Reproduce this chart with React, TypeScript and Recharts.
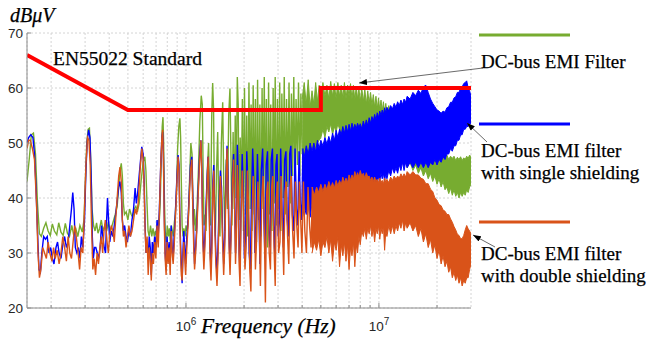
import React from 'react';
import { ComposedChart, Line, Area, XAxis, YAxis, CartesianGrid } from 'recharts';

// all frequencies in kHz, levels in dBµV
// harmonic comb, [kHz, dBµV]
const greenSpikes: [number, number][] = [
  [150, 43], [154, 47], [158, 51.5], [162, 51.8], [166, 48], [170, 39], [174, 33.5], [178, 33], [183, 34.5], [188, 35.5],
  [193, 34], [198, 33.2], [203, 35.3], [208, 34], [214, 33.3], [219, 35.5], [225, 33.8], [231, 33.2], [237, 35.4], [243, 33.6],
  [249, 33], [256, 35], [262, 33.2], [268, 34.6], [275, 33], [282, 35], [290, 33.8], [296, 36], [301, 43], [306, 50],
  [311, 52.5], [316, 52.7], [321, 47], [326, 38], [332, 35], [338, 34], [344, 35.5], [350, 33.6], [357, 34.5], [364, 36],
  [372, 34], [380, 35], [388, 34], [396, 35.6], [405, 34], [414, 35], [422, 36], [430, 37], [440, 38.5], [448, 42],
  [455, 45], [462, 46.3], [468, 44], [474, 39], [480, 37], [490, 37.5], [500, 36], [510, 38], [520, 37], [530, 36.5],
  [540, 38], [550, 38.5], [560, 37.5], [572, 39], [585, 43], [600, 46.5], [612, 47.5], [620, 45], [628, 39], [636, 34],
  [645, 33], [655, 35], [665, 33], [675, 34.5], [685, 33], [695, 34], [705, 33], [715, 36], [725, 35], [735, 39],
  [745, 47], [753, 53], [760, 54.7], [766, 50], [772, 41], [780, 34], [790, 32], [800, 35], [810, 33], [820, 34.5],
  [830, 32], [840, 35], [850, 34], [860, 33], [870, 35.5], [880, 37], [893, 41], [905, 49], [918, 53], [930, 54.5],
  [938, 51], [946, 43], [955, 35], [965, 33], [975, 34.5], [990, 33], [1000, 35], [1015, 34], [1030, 37], [1045, 44],
  [1060, 50], [1075, 48], [1085, 40], [1095, 35], [1105, 38], [1120, 34], [1140, 38], [1160, 45], [1180, 54], [1200, 58.6],
  [1215, 57], [1228, 44], [1240, 35], [1255, 37], [1270, 34], [1290, 45], [1310, 50], [1325, 40], [1340, 35], [1360, 55],
  [1375, 60.9], [1390, 56], [1405, 38], [1420, 33], [1440, 45], [1460, 52], [1480, 36], [1500, 33], [1525, 50], [1550, 57.4],
  [1570, 42], [1590, 34], [1615, 47], [1640, 38], [1665, 55], [1690, 59.9], [1710, 48], [1730, 35], [1755, 52], [1780, 38],
  [1800, 55], [1820, 40], [1845, 62], [1865, 57], [1885, 36], [1910, 51], [1935, 40], [1960, 58], [1985, 34], [2010, 60],
  [2040, 37], [2065, 55], [2090, 33], [2120, 61], [2150, 38], [2175, 57], [2200, 34], [2230, 60.5], [2260, 37], [2290, 58],
  [2320, 32], [2350, 61.5], [2385, 36], [2415, 57], [2445, 33], [2480, 60], [2510, 38], [2545, 62], [2580, 35], [2610, 58],
  [2645, 31], [2680, 61], [2715, 37], [2750, 57], [2790, 34], [2830, 60], [2865, 39], [2900, 62], [2940, 35], [2980, 58],
  [3020, 38], [3060, 61], [3100, 34], [3140, 59], [3190, 40], [3230, 62], [3280, 37], [3320, 58], [3370, 42], [3420, 61],
  [3470, 39], [3520, 59], [3570, 44], [3620, 62], [3670, 41], [3720, 58], [3780, 46], [3830, 61], [3890, 44], [3940, 59],
  [4000, 48],
];

// dense part of the spectrum, [kHz, low, high]
const greenBand: [number, number, number][] = [
  [4000, 47, 58], [4100, 48, 61], [4200, 47.5, 57], [4300, 48.5, 61.5], [4400, 48, 56.5], [4500, 49, 59.5], [4600, 49.5, 57],
  [4700, 49, 61], [4800, 50, 57.5], [4900, 50.5, 60.5], [5000, 51, 58], [5125, 52.5, 61], [5250, 51, 58.5], [5375, 53, 60.5],
  [5500, 52, 58], [5625, 53.5, 61.2], [5750, 51.5, 58.5], [5875, 53, 60.8], [6000, 52, 58], [6125, 53.5, 61], [6250, 52.5, 58.5],
  [6375, 51, 60.5], [6500, 53, 58.2], [6625, 52, 61], [6750, 50.5, 58], [6875, 52.5, 60.5], [7000, 51.5, 58.5], [7125, 53, 60.8],
  [7250, 51, 58], [7375, 52.5, 60.5], [7500, 51.5, 57.8], [7625, 53, 60.3], [7750, 50.5, 58], [7875, 52, 60], [8000, 51, 57.5],
  [8150, 52.5, 60], [8300, 50.5, 57.5], [8450, 52, 59.8], [8600, 51, 57], [8750, 52, 59.5], [8900, 50, 57.2], [9050, 51.5, 59.2],
  [9200, 50.5, 56.8], [9350, 51.5, 58.8], [9500, 49.5, 56.5], [9650, 51, 58.5], [9800, 50, 56.2], [9950, 51, 58.2],
  [10100, 49, 56], [10250, 50.5, 57.8], [10400, 49.5, 55.8], [10550, 50.5, 57.5], [10700, 48.5, 55.5], [10850, 50, 57.2],
  [11000, 49, 55.5], [11250, 49.5, 56.8], [11500, 48, 55], [11750, 49, 56.3], [12000, 47.5, 54.5], [12250, 48.5, 55.8],
  [12500, 47, 54], [12750, 48, 55], [13000, 46.5, 53.2], [13250, 47.5, 54], [13500, 46, 52.5], [13750, 47, 53],
  [14000, 45.5, 51.8], [14500, 46.5, 52.5], [15000, 45, 51], [15500, 46, 51.5], [16000, 44.5, 50.2], [16500, 45.5, 50.8],
  [17000, 44, 49.8], [17500, 45, 50.3], [18000, 43.5, 49.2], [18500, 44.5, 49.8], [19000, 43, 48.5], [19500, 44, 49],
  [20000, 42.5, 48], [20500, 43.5, 48.5], [21000, 42, 47.5], [21500, 43, 48], [22000, 41.5, 47.2], [22500, 42, 47.8],
  [23000, 40.8, 47], [23500, 41.8, 47.6], [24000, 40.5, 47.2], [24500, 41.5, 47.6], [25000, 40.3, 46.8], [25500, 41, 47.4],
  [26000, 40, 47], [26500, 41, 47.5], [27000, 40.3, 46.8], [27500, 41, 47.3], [28000, 40.5, 47], [28500, 41.5, 47.6],
  [29000, 41, 47.2], [29500, 42, 47.8], [30000, 42.5, 47.5],
];

const blueSpikes: [number, number][] = [
  [150, 50], [153, 51], [157, 51.5], [161, 51], [164, 48], [167, 42], [170, 34], [173, 27], [176, 26.5], [179, 30],
  [183, 33], [187, 32.5], [191, 33], [195, 30], [199, 31], [203, 29], [207, 28], [212, 31], [216, 32], [220, 30],
  [225, 29], [230, 31.5], [235, 33], [240, 31], [245, 32], [250, 35], [255, 38], [259, 41], [263, 38], [267, 31],
  [272, 30], [277, 31], [282, 29], [287, 33], [292, 31], [298, 36], [303, 45], [308, 50.5], [313, 52.4], [318, 51],
  [323, 43], [327, 33], [331, 29], [336, 31], [341, 31], [347, 30], [353, 29], [359, 31], [365, 35], [371, 33],
  [377, 31], [383, 30], [388, 36], [392, 40], [397, 36], [403, 32], [410, 34], [418, 33], [425, 35], [432, 37],
  [440, 39.5], [448, 42], [455, 43], [462, 41], [468, 36], [474, 34], [481, 35], [489, 33], [497, 32], [506, 34],
  [515, 33], [525, 36], [535, 38], [545, 41.8], [553, 39], [562, 41], [575, 45], [590, 49.3], [600, 48], [607, 43],
  [614, 35], [621, 30], [629, 32], [637, 29], [645, 33], [653, 31], [661, 26], [669, 32], [678, 30], [688, 33],
  [698, 31], [708, 36], [718, 33], [728, 38], [740, 46], [750, 51], [757, 52], [764, 48], [772, 37], [780, 30],
  [789, 27], [798, 33], [808, 29], [818, 32], [828, 28], [838, 35], [848, 31], [858, 29], [868, 33], [878, 36],
  [888, 40], [898, 44], [910, 47.8], [920, 46], [928, 38], [937, 32], [946, 28], [955, 24.5], [964, 30], [974, 34],
  [985, 31], [996, 28], [1010, 33], [1025, 36], [1040, 41], [1055, 46], [1072, 47.5], [1085, 40], [1097, 33], [1108, 28],
  [1122, 31], [1138, 35], [1158, 42], [1178, 48], [1195, 50.5], [1208, 45], [1222, 34], [1238, 29], [1253, 33], [1268, 38],
  [1288, 44], [1303, 47.5], [1318, 40], [1333, 31], [1348, 27], [1363, 33], [1378, 43], [1393, 46], [1408, 38], [1428, 30],
  [1448, 26], [1468, 32], [1488, 40], [1508, 45], [1528, 42], [1548, 34], [1568, 28], [1588, 33], [1608, 42], [1632, 49.5],
  [1652, 44], [1672, 33], [1692, 28], [1714, 35], [1740, 44], [1765, 48], [1786, 41], [1806, 30], [1826, 35], [1846, 49.7],
  [1866, 44], [1886, 30], [1906, 27], [1928, 38], [1956, 48], [1986, 40], [2008, 29], [2036, 33], [2066, 48.5], [2096, 42],
  [2126, 30], [2156, 27], [2186, 40], [2216, 49], [2246, 43], [2276, 30], [2306, 35], [2346, 48], [2386, 38], [2416, 28],
  [2456, 45], [2496, 49], [2536, 36], [2566, 29], [2606, 46], [2646, 48.5], [2686, 34], [2726, 31], [2766, 47], [2806, 49],
  [2846, 35], [2886, 30], [2926, 46], [2966, 48], [3006, 33], [3056, 36], [3096, 49], [3146, 38], [3196, 31], [3246, 47],
  [3296, 48.5], [3346, 36], [3396, 33], [3446, 48], [3496, 49.5], [3556, 37], [3616, 34], [3676, 49], [3736, 38], [3796, 35],
  [3856, 48.5], [3916, 39], [3976, 36], [4040, 49],
];

const blueBand: [number, number, number][] = [
  [4000, 36, 49], [4100, 38.5, 47.5], [4200, 37, 49.5], [4300, 39, 48], [4400, 36.5, 50], [4500, 39, 48.5], [4600, 38, 50],
  [4700, 40, 48.5], [4800, 37.5, 50.5], [4900, 39.5, 49], [5000, 38.5, 50.5], [5125, 40.5, 49.5], [5250, 38, 51],
  [5375, 40, 49.8], [5500, 39, 51.2], [5625, 41, 50], [5750, 38.5, 51.8], [5875, 40.5, 50.5], [6000, 39.5, 52.3],
  [6125, 41.5, 51], [6250, 38.5, 52.5], [6375, 40.5, 51.5], [6500, 39.5, 53], [6625, 41.5, 51.8], [6750, 38, 53.2],
  [6875, 40, 52], [7000, 39, 53.4], [7125, 41, 52.2], [7250, 38.5, 53.6], [7375, 40.5, 52.5], [7500, 39, 53.4],
  [7625, 41, 52.6], [7750, 37.5, 53.6], [7875, 40, 52.8], [8000, 39, 53.5], [8150, 41, 52.6], [8300, 40, 54],
  [8450, 42, 53], [8600, 40.5, 54.2], [8750, 42.5, 53.2], [8900, 41.5, 54.6], [9050, 43, 53.6], [9200, 41.5, 54.8],
  [9350, 43, 54], [9500, 42, 55.2], [9650, 43.5, 54.2], [9800, 42.5, 55.5], [9950, 44, 54.6], [10100, 43, 55.8],
  [10250, 44.5, 55], [10400, 43.5, 56], [10550, 44.5, 55.2], [10700, 43, 56.4], [10850, 44.5, 55.5], [11000, 43.5, 56.5],
  [11250, 45, 55.8], [11500, 44, 56.8], [11750, 45.5, 56.2], [12000, 44.5, 57.2], [12250, 45.5, 56.5], [12500, 44.5, 57.5],
  [12750, 46, 56.8], [13000, 45, 57.8], [13250, 46.5, 57], [13500, 45, 58], [13750, 46.5, 57.4], [14000, 45.5, 58.5],
  [14500, 46.5, 58], [15000, 45.5, 59.2], [15500, 46.5, 58.6], [16000, 45.5, 59.6], [16500, 46.5, 59], [17000, 45.5, 60.2],
  [17500, 46.5, 60.5], [18000, 45.5, 59.2], [18500, 46.5, 58], [19000, 46, 57.2], [19500, 47, 56.6], [20000, 46, 56],
  [20500, 47, 55.8], [21000, 46.5, 55.4], [21500, 47.5, 55.8], [22000, 47, 55.6], [22500, 48, 56.4], [23000, 48, 56.6],
  [23500, 49, 57.4], [24000, 48.5, 57.4], [24500, 49.5, 58.2], [25000, 49.5, 58.4], [25500, 50.5, 59.2], [26000, 50.5, 59.2],
  [26500, 51.5, 60], [27000, 51.5, 60.2], [27500, 52.5, 60.8], [28000, 52.5, 61], [28500, 53, 61.3], [29000, 53, 60],
  [29500, 53.5, 59.5], [30000, 53.5, 58.5],
];

const orangeSpikes: [number, number][] = [
  [150, 49], [153, 50.5], [156, 50.5], [160, 49], [164, 47], [168, 39], [171, 30], [174, 25.5], [177, 27], [181, 31],
  [185, 30], [189, 29], [193, 32], [197, 30], [202, 28.5], [206, 31], [210, 29], [215, 30.5], [220, 28], [225, 30],
  [230, 33], [235, 31], [240, 28.5], [245, 33], [250, 30], [255, 29], [260, 32], [265, 35], [270, 33], [276, 30],
  [281, 27], [286, 31], [292, 30], [298, 38], [303, 46], [309, 51], [314, 50.5], [319, 46], [324, 35], [329, 27],
  [334, 29], [340, 26], [346, 30], [352, 28], [358, 31], [364, 33], [370, 30], [376, 34], [382, 36], [390, 32],
  [396, 30], [402, 33], [410, 35], [418, 34], [425, 32], [432, 36], [440, 40], [448, 44], [455, 45.6], [462, 43],
  [468, 36], [474, 33], [481, 34], [489, 31], [497, 33], [506, 35], [515, 33], [525, 34], [535, 36], [545, 38],
  [555, 37], [565, 39], [578, 45], [590, 49], [600, 47], [607, 42], [614, 34], [621, 30], [629, 33], [637, 26],
  [645, 31], [653, 29], [661, 25], [669, 30], [678, 28], [688, 32], [698, 29], [708, 35], [718, 31], [728, 37],
  [740, 46], [750, 51], [757, 52.4], [764, 47], [772, 35], [780, 29], [789, 26], [798, 32], [808, 28], [818, 31],
  [828, 26], [838, 34], [848, 30], [858, 28], [868, 31], [878, 35], [888, 39], [898, 43], [910, 47.5], [920, 45],
  [928, 37], [937, 30], [946, 26], [955, 25], [964, 29], [974, 32], [985, 29], [996, 26], [1010, 31], [1025, 35],
  [1040, 40], [1055, 45], [1072, 47], [1085, 38], [1097, 31], [1108, 27], [1122, 30], [1138, 34], [1158, 41], [1178, 47],
  [1195, 50.5], [1208, 44], [1222, 32], [1238, 27], [1253, 31], [1268, 36], [1288, 43], [1303, 47.5], [1318, 38], [1333, 29],
  [1348, 25], [1363, 31], [1378, 41], [1393, 45], [1408, 36], [1428, 28], [1448, 24], [1468, 30], [1488, 38], [1508, 44],
  [1528, 40], [1548, 32], [1568, 26], [1588, 31], [1608, 40], [1632, 49], [1652, 42], [1672, 31], [1692, 26], [1714, 33],
  [1740, 42], [1765, 47], [1786, 39], [1806, 28], [1826, 33], [1846, 46], [1866, 42], [1886, 28], [1906, 24], [1928, 36],
  [1956, 45], [1986, 38], [2022, 27], [2050, 31], [2080, 45], [2110, 39], [2140, 27], [2170, 23], [2200, 37], [2230, 44],
  [2260, 40], [2290, 27], [2320, 32], [2360, 43], [2400, 35], [2430, 24], [2470, 40], [2510, 44], [2550, 33], [2580, 21],
  [2620, 41], [2660, 43], [2700, 30], [2740, 27], [2780, 42], [2820, 44], [2860, 31], [2900, 24], [2940, 40], [2980, 43],
  [3020, 30], [3070, 32], [3110, 44], [3160, 35], [3210, 26], [3260, 41], [3310, 43], [3360, 33], [3410, 28], [3460, 42],
  [3510, 44], [3570, 34], [3630, 29], [3690, 43], [3750, 35], [3810, 31], [3870, 43], [3930, 36], [3990, 30], [4060, 43],
  [4130, 34], [4210, 30], [4290, 42], [4370, 35], [4450, 31], [4520, 42],
];

const orangeBand: [number, number, number][] = [
  [4500, 30, 42], [4625, 32, 40.5], [4750, 30.5, 42], [4875, 32.5, 41], [5000, 29.5, 42.5], [5125, 32, 41.2], [5250, 31, 42.5],
  [5375, 33, 41.5], [5500, 30, 43], [5625, 32.5, 41.8], [5750, 28.5, 42.8], [5875, 32, 41.8], [6000, 30.5, 43.2],
  [6125, 33, 42.2], [6250, 27.5, 43.2], [6375, 31.5, 42.4], [6500, 29.5, 43.8], [6625, 32, 42.8], [6750, 28.5, 43.6],
  [6875, 31.5, 42.8], [7000, 27, 44.2], [7125, 31, 43.2], [7250, 29.5, 44.2], [7375, 32, 43.4], [7500, 27.5, 44.8],
  [7625, 31.5, 43.8], [7750, 30, 44.6], [7875, 33, 43.8], [8000, 31.5, 45], [8150, 34, 44], [8300, 33, 44.5],
  [8450, 34.5, 43.6], [8600, 32.5, 44.6], [8750, 34.5, 43.8], [8900, 33.5, 44], [9050, 35, 43.2], [9200, 33, 43.8],
  [9350, 34.5, 43], [9500, 32, 43.8], [9650, 34.5, 43], [9800, 33.5, 43.4], [9950, 35, 42.8], [10100, 32.5, 43.6],
  [10250, 34.5, 42.8], [10400, 33.5, 43.2], [10550, 35, 42.6], [10700, 30.5, 43.6], [10850, 34, 42.8], [11000, 33, 43.4],
  [11250, 35, 42.8], [11500, 33.5, 43.8], [11750, 35, 43.2], [12000, 33.5, 44], [12250, 35, 43.4], [12500, 34, 44],
  [12750, 35.5, 43.6], [13000, 34.5, 44.4], [13250, 36, 43.8], [13500, 34, 44.4], [13750, 35.5, 43.8], [14000, 34.5, 44.8],
  [14500, 35.5, 44.2], [15000, 34, 44.8], [15500, 35, 44.2], [16000, 33, 44.2], [16500, 34.5, 43.6], [17000, 32, 43.4],
  [17500, 33.5, 42.6], [18000, 31, 42.6], [18500, 32.5, 41.6], [19000, 30, 41.2], [19500, 31.5, 40], [20000, 29, 39.6],
  [20500, 30.5, 38.8], [21000, 28, 38.6], [21500, 29.5, 37.8], [22000, 27.5, 37.6], [22500, 28.5, 37], [23000, 26.5, 37],
  [23500, 27.5, 36.2], [24000, 25.5, 35.6], [24500, 26.5, 34.8], [25000, 25, 34.2], [25500, 26, 33.4], [26000, 24.5, 33.2],
  [26500, 25.5, 32.6], [27000, 24, 32.6], [27500, 25, 33.2], [28000, 24.5, 34.2], [28500, 25.5, 35], [29000, 25.5, 34.4],
  [29500, 27, 34], [30000, 28, 33.5],
];

// EN55022 limit
const standardLimit: [number, number][] = [[150, 66], [500, 56], [5000, 56], [5000, 60], [30000, 60]];

const xGridTicks = [200, 300, 400, 500, 600, 700, 800, 900, 1000, 2000, 3000, 4000, 5000, 6000, 7000, 8000, 9000, 10000, 20000];
const xLabelTicks = [1000, 10000];
const xLabelExponents = ['6', '7'];
const yTicks = [20, 30, 40, 50, 60, 70];

const GREEN = '#77ac30';
const BLUE = '#0000ff';
const ORANGE = '#d95319';
const RED = '#ff0000';
const AXIS = '#8c8c8c';
const GRID = '#d4d4d4';
const TICK_TEXT = '#262626';
const SANS = 'Liberation Sans, Arial, sans-serif';
const SERIF = 'Liberation Serif, Times New Roman, serif';

const toLine = (pts: [number, number][]) => pts.map(([f, v]) => ({ f, v }));
const toBand = (pts: [number, number, number][]) => pts.map(([f, lo, hi]) => ({ f, v: [lo, hi] }));

const BottomTick = ({ x, y, payload }: any) => {
  const i = xLabelTicks.indexOf(payload.value);
  return (
    <g>
      <line x1={x} y1={y} x2={x} y2={y - (i >= 0 ? 5 : 3)} stroke={AXIS} />
      {i >= 0 && (
        <text x={x} y={y + 23} textAnchor="middle" fill={TICK_TEXT} fontSize={13.5} style={{ fontFamily: SANS }}>
          10<tspan dy={-6} fontSize={10}>{xLabelExponents[i]}</tspan>
        </text>
      )}
    </g>
  );
};

const TopTick = ({ x, y, payload }: any) => (
  <line x1={x} y1={y} x2={x} y2={y + (xLabelTicks.includes(payload.value) ? 5 : 3)} stroke={AXIS} />
);

const LeftTick = ({ x, y, payload }: any) => (
  <g>
    <line x1={x} y1={y} x2={x + 4} y2={y} stroke={AXIS} />
    <text x={x - 4} y={y + 5} textAnchor="end" fill={TICK_TEXT} fontSize={13.5} style={{ fontFamily: SANS }}>
      {payload.value}
    </text>
  </g>
);

const RightTick = ({ x, y }: any) => <line x1={x} y1={y} x2={x - 4} y2={y} stroke={AXIS} />;

const serifText = { fontFamily: SERIF };

export default function App() {
  return (
    <div style={{ position: 'absolute', left: 0, top: 0, width: 647, height: 341, background: '#fff' }}>
      <ComposedChart width={647} height={341} margin={{ top: 33, right: 176, bottom: 3, left: 0 }}>
        <CartesianGrid stroke={GRID} strokeDasharray="2 2" />
        <XAxis
          dataKey="f" type="number" scale="log" domain={[150, 30000]} allowDataOverflow
          ticks={xGridTicks} interval={0} height={30} tickLine={false} tickSize={0} tickMargin={0}
          stroke={AXIS} tick={<BottomTick />}
        />
        <XAxis
          xAxisId="top" orientation="top" dataKey="f" type="number" scale="log" domain={[150, 30000]} allowDataOverflow
          ticks={xGridTicks} interval={0} height={0} tickLine={false} tickSize={0} tickMargin={0}
          stroke={AXIS} tick={<TopTick />}
        />
        <YAxis
          type="number" domain={[20, 70]} ticks={yTicks} interval={0} width={27} allowDataOverflow
          tickLine={false} tickSize={0} tickMargin={0} stroke={AXIS} tick={<LeftTick />}
        />
        <YAxis
          yAxisId="right" orientation="right" type="number" domain={[20, 70]} ticks={yTicks} interval={0} width={0}
          tickLine={false} tickSize={0} tickMargin={0} stroke={AXIS} tick={<RightTick />}
        />

        <Line data={toLine(greenSpikes)} dataKey="v" stroke={GREEN} strokeWidth={1.4} dot={false} isAnimationActive={false} />
        <Area data={toBand(greenBand)} dataKey="v" type="linear" stroke={GREEN} strokeWidth={1} fill={GREEN} fillOpacity={1} isAnimationActive={false} />
        <Line data={toLine(blueSpikes)} dataKey="v" stroke={BLUE} strokeWidth={1.4} dot={false} isAnimationActive={false} />
        <Area data={toBand(blueBand)} dataKey="v" type="linear" stroke={BLUE} strokeWidth={1} fill={BLUE} fillOpacity={1} isAnimationActive={false} />
        <Line data={toLine(orangeSpikes)} dataKey="v" stroke={ORANGE} strokeWidth={1.4} dot={false} isAnimationActive={false} />
        <Area data={toBand(orangeBand)} dataKey="v" type="linear" stroke={ORANGE} strokeWidth={1} fill={ORANGE} fillOpacity={1} isAnimationActive={false} />
        <Line data={toLine(standardLimit)} dataKey="v" stroke={RED} strokeWidth={4} dot={false} isAnimationActive={false} />
      </ComposedChart>

      {/* titles, legend and arrows */}
      <svg width={647} height={341} style={{ position: 'absolute', left: 0, top: 0, pointerEvents: 'none' }}>
        <defs>
          <marker id="head" markerUnits="userSpaceOnUse" markerWidth="8" markerHeight="6" refX="8" refY="3" orient="auto">
            <path d="M0,0 L8,3 L0,6 z" fill="#000" />
          </marker>
        </defs>
        <g fill="#000" stroke="#000" strokeWidth={0.25} style={serifText}>
          <text x={10} y={22} fontStyle="italic" fontSize={20}>dBμV</text>
          <text x={53} y={65} fontSize={19.5}>EN55022 Standard</text>
          <text x={201} y={333} fontStyle="italic" fontSize={21.5}>Frequency (Hz)</text>
          <text x={481} y={68} fontSize={19}>DC-bus EMI Filter</text>
          <text x={481} y={157} fontSize={19}>DC-bus EMI filter</text>
          <text x={481} y={179} fontSize={19}>with single shielding</text>
          <text x={481} y={260} fontSize={19}>DC-bus EMI filter</text>
          <text x={481} y={282} fontSize={19}>with double shielding</text>
        </g>

        <line x1={479} y1={35} x2={570} y2={35} stroke={GREEN} strokeWidth={3} />
        <line x1={479} y1={124} x2={570} y2={124} stroke={BLUE} strokeWidth={3} />
        <line x1={479} y1={222} x2={570} y2={222} stroke={ORANGE} strokeWidth={3} />

        <line x1={483} y1={68} x2={359} y2={83} stroke="#444" strokeWidth={0.8} markerEnd="url(#head)" />
        <line x1={487} y1={142} x2={467} y2={123} stroke="#444" strokeWidth={0.8} markerEnd="url(#head)" />
        <line x1={495} y1={247} x2={473} y2={235} stroke="#444" strokeWidth={0.8} markerEnd="url(#head)" />
      </svg>
    </div>
  );
}
